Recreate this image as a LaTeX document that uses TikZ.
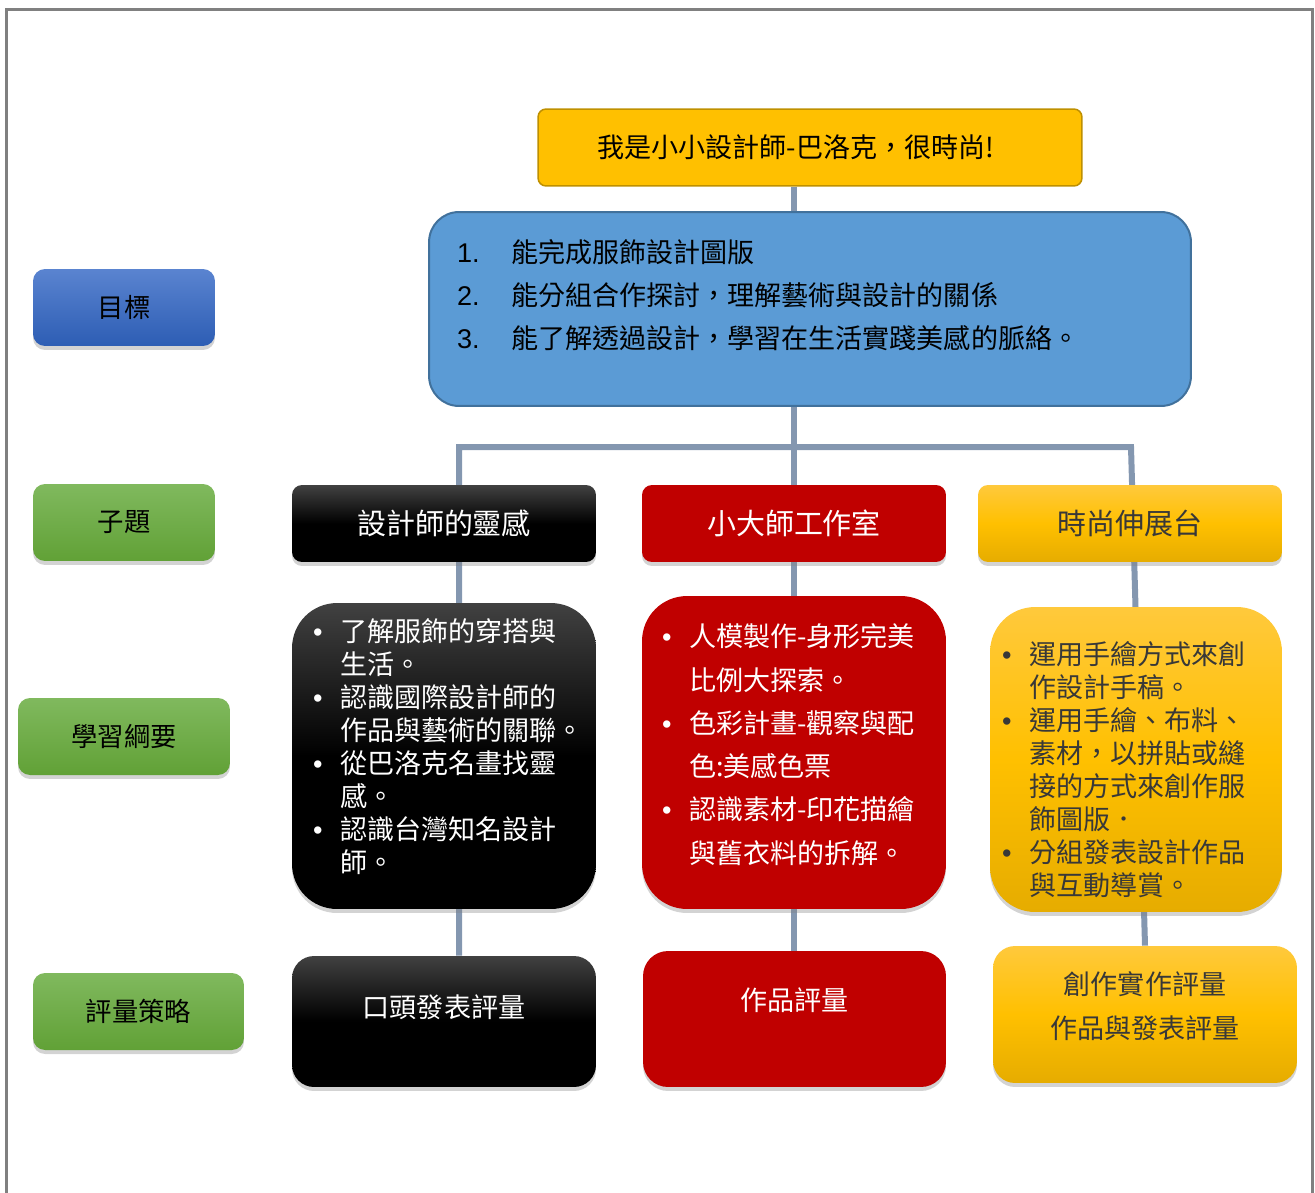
\documentclass[tikz,border=0pt]{standalone}
\usepackage{fontspec}
\newfontfamily\cjk{Noto Sans CJK TC}
\newfontfamily\numfont{Liberation Sans}
\usetikzlibrary{shadows,backgrounds}
\definecolor{frameGray}{HTML}{808080}
\definecolor{linkBlue}{HTML}{8497B0}
\definecolor{titleGold}{HTML}{FFC000}
\definecolor{titleEdge}{HTML}{BF9000}
\definecolor{goalBlue}{HTML}{5B9BD5}
\definecolor{goalEdge}{HTML}{41719C}
\definecolor{tagBlueTop}{HTML}{5A84D0}
\definecolor{tagBlueBot}{HTML}{2D5DB4}
\definecolor{tagGreenTop}{HTML}{80B95E}
\definecolor{tagGreenBot}{HTML}{61A136}
\definecolor{inkTop}{HTML}{414141}
\definecolor{redFill}{HTML}{C00000}
\definecolor{goldTop}{HTML}{FFC93C}
\definecolor{goldBot}{HTML}{E6AC00}
\definecolor{goldText}{HTML}{383838}

\newcommand\bulitem{\makebox[0.48cm][l]{\hspace*{-0.06cm}\numfont\textbullet}}
\newcommand\bulgap{\hspace*{0.48cm}}
\newcommand\goalnum[1]{\makebox[1.08cm][l]{\numfont #1}}
\newcommand\deepline[1]{\rule[-#1]{0pt}{#1}}
\newcommand\tallline[1]{\rule{0pt}{#1}}

\begin{document}
\begin{tikzpicture}[
        x=0.02cm, y=-0.02cm,
        frameLine/.style={draw=frameGray, line width=0.06cm},
        link/.style={draw=linkBlue, line width=0.12cm},
        shade/.style={drop shadow={opacity=0.35, shadow xshift=0cm, shadow yshift=-0.08cm}},
        titlebox/.style={rectangle, rounded corners=0.16cm, fill=titleGold, draw=titleEdge, line width=0.03cm, minimum width=10.88cm, minimum height=1.54cm, font=\cjk\fontsize{15.4}{18}\selectfont},
        goalbox/.style={rectangle, rounded corners=0.6cm, fill=goalBlue, draw=goalEdge, line width=0.04cm, minimum width=15.24cm, minimum height=3.88cm, inner xsep=0.56cm, text width=14.12cm, align=left, font=\cjk\fontsize{15.4}{24.7}\selectfont},
        tagbox/.style={rectangle, shade, rounded corners=0.24cm, minimum height=1.54cm, font=\cjk\fontsize{15}{18}\selectfont},
        bluetag/.style={tagbox, top color=tagBlueTop, bottom color=tagBlueBot},
        greentag/.style={tagbox, top color=tagGreenTop, bottom color=tagGreenBot},
        panel/.style={rectangle, shade, minimum width=6.08cm},
        inkpanel/.style={panel, top color=inkTop, bottom color=black, middle color=black, text=white},
        redpanel/.style={panel, fill=redFill, text=white},
        goldpanel/.style={panel, top color=goldTop, bottom color=goldBot, middle color=titleGold, text=goldText},
        topic/.style={minimum height=1.54cm, rounded corners=0.2cm, font=\cjk\fontsize{16.5}{20}\selectfont},
        outline/.style={rounded corners=0.9cm, align=left, font=\cjk\fontsize{15.4}{18.8}\selectfont},
        assess/.style={rounded corners=0.44cm, align=center, font=\cjk\fontsize{15.4}{24.5}\selectfont}
      ]
        \useasboundingbox (0,0) rectangle (1315,1193);
        \draw[frameLine] (6.5,1193) -- (6.5,9.5) -- (1312.5,9.5) -- (1312.5,1193);

        \node[titlebox] (title) at (810,147.5) {我是小小設計師-巴洛克，很時尚!\hspace*{0.56cm}};
        \node[goalbox] (goal) at (810,309) {\goalnum{1.}能完成服飾設計圖版\\ \goalnum{2.}能分組合作探討，理解藝術與設計的關係\\ \goalnum{3.}能了解透過設計，學習在生活實踐美感的脈絡。\deepline{0.6cm}};

        \node[bluetag, minimum width=3.64cm] (goalTag) at (124,307.5) {目標};
        \node[greentag, minimum width=3.64cm] (topicTag) at (124,522.5) {子題};
        \node[greentag, minimum width=4.24cm] (outlineTag) at (124,736.5) {學習綱要};
        \node[greentag, minimum width=4.22cm] (assessTag) at (138.5,1011.5) {評量策略};

        \node[inkpanel, topic] (topicA) at (444,523.5) {設計師的靈感};
        \node[redpanel, topic] (topicB) at (794,523.5) {小大師工作室};
        \node[goldpanel, topic] (topicC) at (1130,523.5) {時尚伸展台};

        \node[inkpanel, outline, minimum height=6.12cm, inner xsep=0.48cm, text width=5.12cm] (outA) at (444,756) {\bulitem 了解服飾的穿搭與\\ \bulgap 生活。\\ \bulitem 認識國際設計師的\\ \bulgap 作品與藝術的關聯。\\ \bulitem 從巴洛克名畫找靈\\ \bulgap 感。\\ \bulitem 認識台灣知名設計\\ \bulgap 師。\deepline{0.42cm}};
        \node[redpanel, outline, font=\cjk\fontsize{15.4}{24.6}\selectfont, minimum height=6.26cm, inner xsep=0.46cm, text width=5.16cm] (outB) at (794,752.5) {\bulitem 人模製作-身形完美\\ \bulgap 比例大探索。\\ \bulitem 色彩計畫-觀察與配\\ \bulgap 色:美感色票\\ \bulitem 認識素材-印花描繪\\ \bulgap 與舊衣料的拆解。\deepline{0.36cm}};
        \node[goldpanel, outline, minimum width=5.84cm, minimum height=6.1cm, inner xsep=0.3cm, text width=5.24cm] (outC) at (1136,759.5) {\tallline{0.88cm}\bulitem 運用手繪方式來創\\ \bulgap 作設計手稿。\\ \bulitem 運用手繪、布料、\\ \bulgap 素材，以拼貼或縫\\ \bulgap 接的方式來創作服\\ \bulgap 飾圖版．\\ \bulitem 分組發表設計作品\\ \bulgap 與互動導賞。};

        \node[inkpanel, assess, minimum height=2.62cm] (evalA) at (444,1021.5) {口頭發表評量\deepline{0.6cm}};
        \node[redpanel, assess, minimum width=6.06cm, minimum height=2.72cm, rounded corners=0.5cm] (evalB) at (794.5,1019) {作品評量\deepline{0.78cm}};
        \node[goldpanel, assess, minimum height=2.74cm] (evalC) at (1145,1014.5) {創作實作評量\\作品與發表評量\deepline{0.38cm}};

        \coordinate (colLeft) at (459,447);
        \coordinate (colMid) at (794,447);
        \coordinate (colRight) at (1131,447);
        \begin{scope}[on background layer]
        \draw[link] (title.south -| colMid) -- (evalB.north -| colMid);
        \draw[link] (evalA.north -| colLeft) -- (colLeft) -- (colRight) -- (evalC.north);
        \end{scope}
      \end{tikzpicture}
\end{document}
